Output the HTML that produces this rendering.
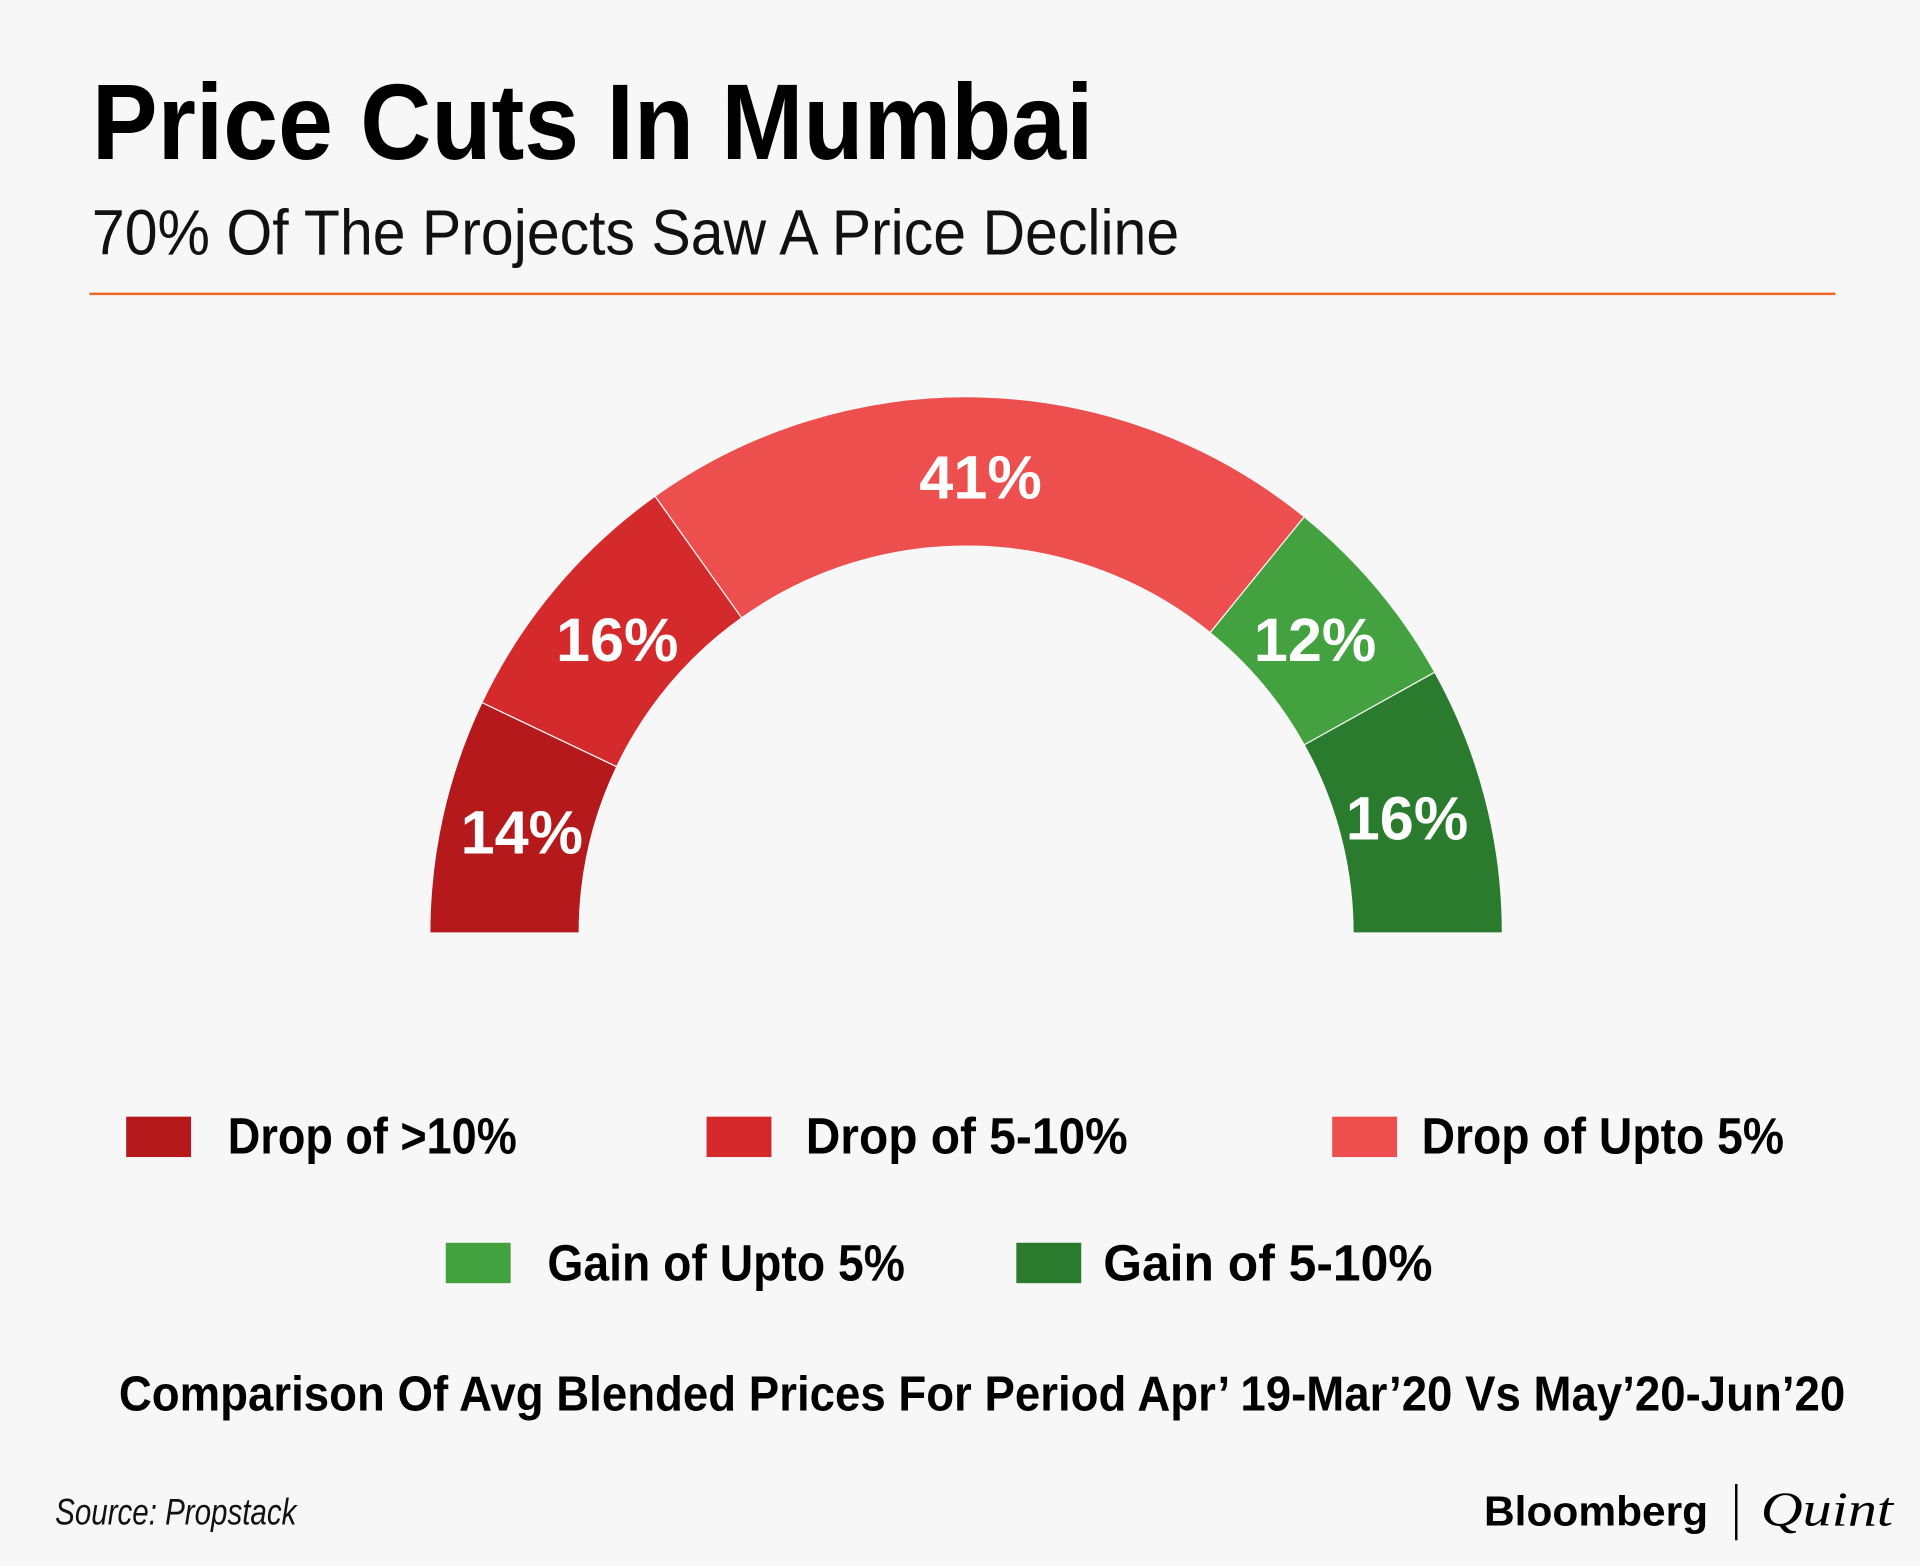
<!DOCTYPE html>
<html><head><meta charset="utf-8"><style>
html,body{margin:0;padding:0;background:#f7f7f7;}
svg{display:block;}
text{font-family:"Liberation Sans Narrow","Liberation Sans",sans-serif;}
</style></head><body>
<svg id="chart" width="1920" height="1566" viewBox="0 0 1568 1279" xmlns="http://www.w3.org/2000/svg">
<rect width="1568" height="1279" fill="#f7f7f7"/>
<text x="75" y="130" font-size="88" font-weight="bold" fill="#000" textLength="818" lengthAdjust="spacingAndGlyphs">Price Cuts In Mumbai</text>
<text x="75" y="208" font-size="52" fill="#111" textLength="888" lengthAdjust="spacingAndGlyphs">70% Of The Projects Saw A Price Decline</text>
<rect x="73" y="239" width="1426" height="2" fill="#f26522"/>
<g id="donut"></g>
<g>
<rect x="103" y="912" width="53" height="33" fill="#b5191b"/>
<text x="186" y="942" font-size="42" font-weight="bold" textLength="236" lengthAdjust="spacingAndGlyphs">Drop of &gt;10%</text>
<rect x="577" y="912" width="53" height="33" fill="#d42a2b"/>
<text x="658" y="942" font-size="42" font-weight="bold" textLength="263" lengthAdjust="spacingAndGlyphs">Drop of  5-10%</text>
<rect x="1088" y="912" width="53" height="33" fill="#ec4f4d"/>
<text x="1161" y="942" font-size="42" font-weight="bold" textLength="296" lengthAdjust="spacingAndGlyphs">Drop of  Upto 5%</text>
<rect x="364" y="1015" width="53" height="33" fill="#43a13f"/>
<text x="447" y="1046" font-size="42" font-weight="bold" textLength="292" lengthAdjust="spacingAndGlyphs">Gain of  Upto 5%</text>
<rect x="830" y="1015" width="53" height="33" fill="#2a7b2d"/>
<text x="901" y="1046" font-size="42" font-weight="bold" textLength="269" lengthAdjust="spacingAndGlyphs">Gain of   5-10%</text>
</g>
<text x="97" y="1152" font-size="40" font-weight="bold" textLength="1410" lengthAdjust="spacingAndGlyphs">Comparison Of Avg Blended Prices For Period Apr’ 19-Mar’20 Vs May’20-Jun’20</text>
<text x="45" y="1245" font-size="30" font-style="italic" fill="#111" textLength="197" lengthAdjust="spacingAndGlyphs">Source: Propstack</text>
<text x="1212" y="1246" font-size="34" font-weight="bold" style="font-family:'Liberation Sans',sans-serif" textLength="183" lengthAdjust="spacingAndGlyphs">Bloomberg</text>
<rect x="1417" y="1212" width="2" height="46" fill="#000"/>
<text x="1438" y="1246" font-size="40" font-style="italic" style="font-family:'Liberation Serif',serif" textLength="108" lengthAdjust="spacingAndGlyphs">Quint</text>
</svg>
<script>
const categories = ["Drop of >10%", "Drop of 5-10%", "Drop of Upto 5%", "Gain of Upto 5%", "Gain of 5-10%"];
const values = [14, 16, 41, 12, 16];
const labels = ["14%", "16%", "41%", "12%", "16%"];
const colors = ["#b5191b", "#d42a2b", "#ec4f4d", "#43a13f", "#2a7b2d"];
const cx = 789, cy = 762, R = 438, r = 316, rl = 372;
const total = values.reduce((a, b) => a + b, 0);
function ang(v) { return Math.PI - v / total * Math.PI; }
function pt(a, rad) { return [cx + rad * Math.cos(a), cy - rad * Math.sin(a)]; }
const g = document.getElementById('donut');
const ns = 'http://www.w3.org/2000/svg';
let cum = 0;
values.forEach((v, i) => {
  const a0 = ang(cum), a1 = ang(cum + v);
  const p0 = pt(a0, R), p1 = pt(a1, R), p2 = pt(a1, r), p3 = pt(a0, r);
  const path = document.createElementNS(ns, 'path');
  path.setAttribute('d', `M${p0[0]},${p0[1]} A${R},${R} 0 0 1 ${p1[0]},${p1[1]} L${p2[0]},${p2[1]} A${r},${r} 0 0 0 ${p3[0]},${p3[1]} Z`);
  path.setAttribute('fill', colors[i]);
  path.setAttribute('stroke', '#f7f7f7');
  path.setAttribute('stroke-width', '1');
  
  
  g.appendChild(path);
  const am = ang(cum + v / 2);
  const lp = pt(am, rl);
  const t = document.createElementNS(ns, 'text');
  t.setAttribute('x', lp[0]);
  t.setAttribute('y', lp[1] + 17);
  t.setAttribute('text-anchor', 'middle');
  t.setAttribute('font-size', '50');
  t.setAttribute('font-weight', 'bold');
  t.setAttribute('fill', '#fff');
  t.textContent = labels[i];
  
  
  g.appendChild(t);
  cum += v;
});
</script>
</body></html>
